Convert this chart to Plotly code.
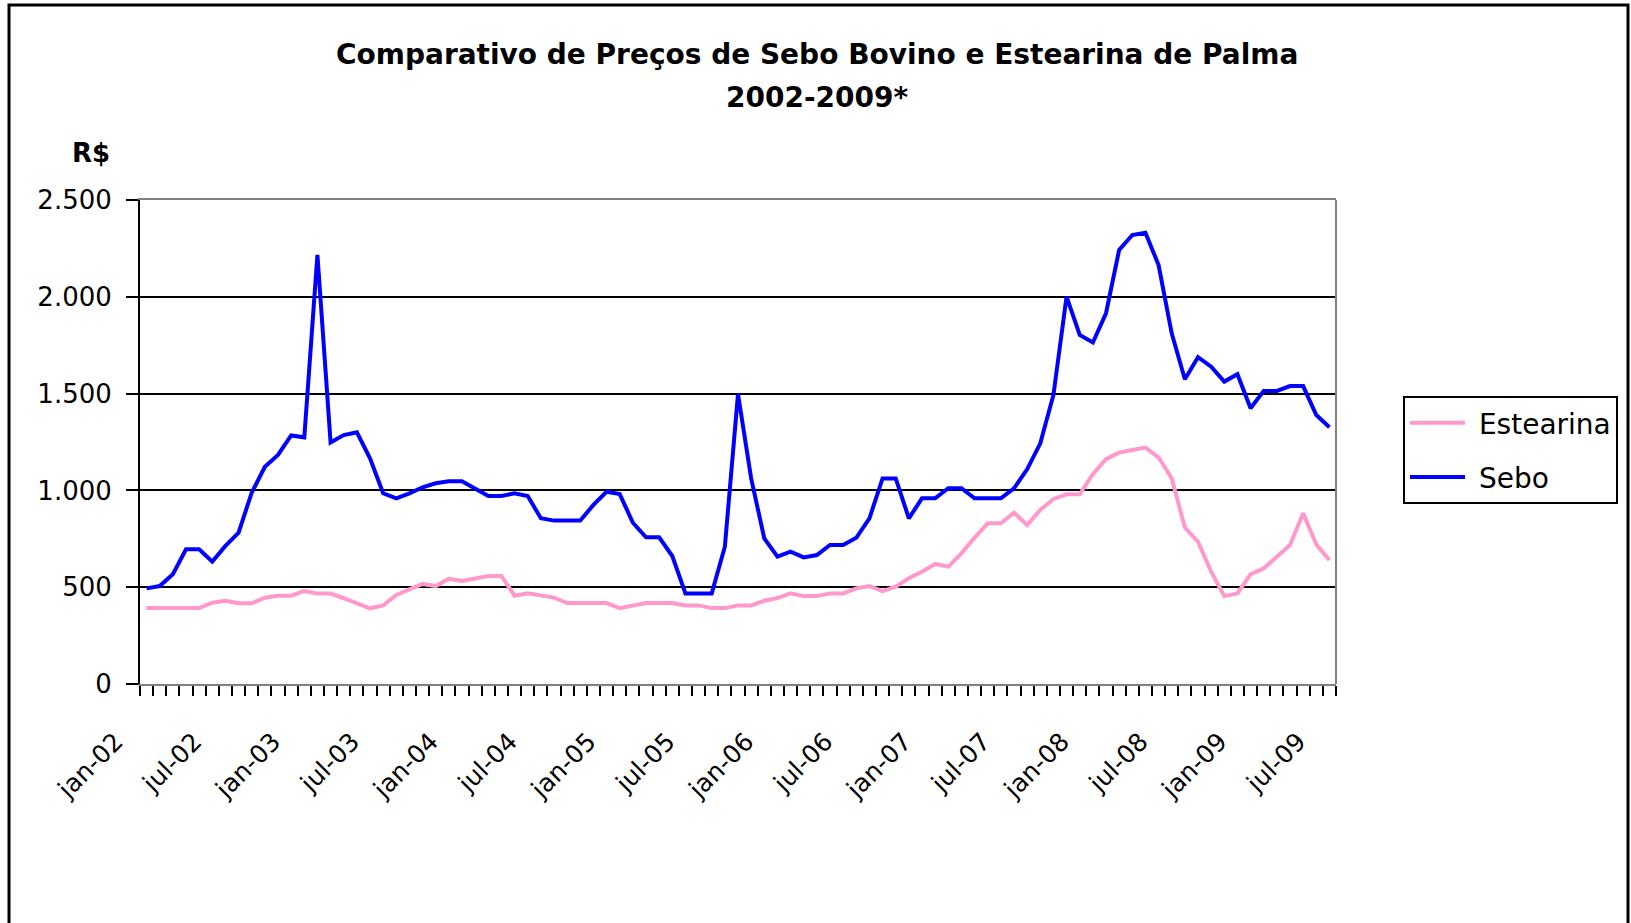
import plotly.graph_objects as go

pt_months = ["jan", "fev", "mar", "abr", "mai", "jun", "jul", "ago", "set", "out", "nov", "dez"]
years = [2, 3, 4, 5, 6, 7, 8, 9]
categories = [f"{m}-{y:02d}" for y in years for m in pt_months][:91]  # jan-02 .. jul-09

tick_labels = [c if (i % 6 == 0) else "" for i, c in enumerate(categories)]

estearina = [
    392, 392, 392, 392, 392, 420, 430, 417, 417, 446,
    456, 456, 480, 467, 467, 443, 417, 391, 406, 460,
    489, 517, 506, 544, 532, 544, 558, 558, 456, 468,
    456, 446, 418, 418, 418, 418, 392, 405, 418, 418,
    418, 406, 406, 392, 392, 406, 406, 430, 444, 468,
    454, 454, 468, 468, 494, 506, 480, 503, 546, 580,
    620, 606, 675, 756, 830, 830, 885, 821, 899, 956,
    980, 980, 1084, 1161, 1195, 1209, 1221, 1171, 1062, 808,
    735, 580, 454, 468, 568, 597, 658, 718, 882, 721,
    640,
]

sebo = [
    494, 506, 567, 696, 696, 632, 713, 782, 988, 1122,
    1183, 1284, 1274, 2216, 1248, 1286, 1300, 1166, 985, 959,
    985, 1016, 1037, 1047, 1047, 1011, 971, 971, 985, 971,
    856, 844, 844, 844, 925, 993, 981, 833, 758, 758,
    661, 468, 468, 468, 709, 1498, 1062, 752, 658, 684,
    654, 666, 718, 718, 755, 856, 1062, 1062, 856, 959,
    959, 1011, 1011, 959, 959, 959, 1011, 1109, 1243, 1493,
    2001, 1803, 1764, 1915, 2242, 2319, 2331, 2164, 1811, 1574,
    1688, 1639, 1562, 1600, 1424, 1514, 1514, 1539, 1539, 1389,
    1326,
]

y_ticks = [0, 500, 1000, 1500, 2000, 2500]
y_ticktext = ["0", "500", "1.000", "1.500", "2.000", "2.500"]

FONT = "DejaVu Sans"

fig = go.Figure()
fig.add_trace(go.Scatter(x=categories, y=estearina, mode="lines", name="\u00a0Estearina",
                         legendgroup="a", line=dict(color="#FF99CC", width=4)))
fig.add_trace(go.Scatter(x=categories, y=sebo, mode="lines", name="\u00a0Sebo",
                         legendgroup="b", line=dict(color="#0000FF", width=4)))

W, H = 1631, 923
L, R, T, B = 140, 1336, 200, 684
pw, ph = R - L, B - T

def px(X):
    return (X - L) / pw

def py(Y):
    return (B - Y) / ph

fig.update_layout(
    width=W, height=H,
    margin=dict(l=L, r=W - R, t=T, b=H - B, autoexpand=False),
    paper_bgcolor="white", plot_bgcolor="white",
    font=dict(family=FONT, color="black"),
    showlegend=True,
    legend=dict(x=px(1403), y=py(396), xanchor="left", yanchor="top",
                bordercolor="black", borderwidth=2, bgcolor="white",
                font=dict(size=28, family=FONT), tracegroupgap=15,
                itemwidth=55),
    xaxis=dict(type="category", tickmode="array", tickvals=categories, ticktext=tick_labels,
               tickson="boundaries", ticks="outside", ticklen=10, tickwidth=2, tickcolor="black",
               tickangle=-45, tickfont=dict(size=25, family=FONT),
               ticklabelshift=-31, ticklabelstandoff=31,
               showline=True, linecolor="#808080", linewidth=2, mirror=True,
               showgrid=False, range=[-0.5, len(categories) - 0.5]),
    yaxis=dict(range=[0, 2500], tickvals=y_ticks, ticktext=y_ticktext,
               ticks="outside", ticklen=12, tickwidth=2, tickcolor="black",
               tickfont=dict(size=26, family=FONT), ticklabelstandoff=9,
               showline=True, linecolor="black", linewidth=2,
               showgrid=True, gridcolor="black", gridwidth=2, zeroline=False),
    shapes=[
        dict(type="line", xref="paper", yref="paper", x0=1, x1=1, y0=0, y1=1,
             line=dict(color="#808080", width=2)),
        dict(type="rect", xref="paper", yref="paper", x0=px(9), x1=px(1628), y0=py(5), y1=py(960),
             line=dict(color="black", width=3), layer="above"),
    ],
    annotations=[
        dict(text="<b>Comparativo de Preços de Sebo Bovino e Estearina de Palma</b>",
             xref="paper", yref="paper", x=px(817), y=py(55), xanchor="center", yanchor="middle",
             showarrow=False, font=dict(size=28, family=FONT)),
        dict(text="<b>2002-2009*</b>",
             xref="paper", yref="paper", x=px(817), y=py(97), xanchor="center", yanchor="middle",
             showarrow=False, font=dict(size=28, family=FONT)),
        dict(text="<b>R$</b>",
             xref="paper", yref="paper", x=px(91), y=py(153), xanchor="center", yanchor="middle",
             showarrow=False, font=dict(size=26, family=FONT)),
    ],
)

fig.write_html("out.html", config={"displayModeBar": False},
               post_script="document.body.style.margin='0';document.body.style.overflow='hidden';")
